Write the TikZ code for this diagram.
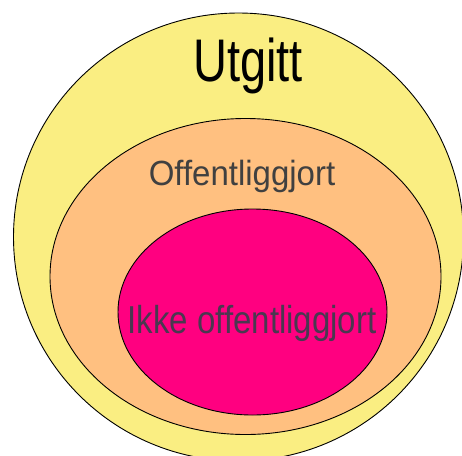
\documentclass[tikz,border=0pt]{standalone}
\usepackage{fontspec}
\setmainfont{Liberation Sans}
\definecolor{cyellow}{HTML}{FAEE82}
\definecolor{corange}{HTML}{FFC080}
\definecolor{cmagenta}{HTML}{FF0080}
\definecolor{tgray}{HTML}{404040}
\definecolor{tgray2}{HTML}{4A3850}
\tikzset{
  setring/.style={draw=black, line width=0.9pt},
  lbl/.style={inner sep=0pt, anchor=base}
}
\begin{document}
\begin{tikzpicture}[x=1pt,y=-1pt]
\useasboundingbox (0,0) rectangle (462,455);
\fill[white] (0,0) rectangle (462,455);
\begin{scope}
\clip (0,0) rectangle (462,455);
\draw[setring, fill=cyellow] (238.5,237) ellipse [x radius=225, y radius=224];
\end{scope}
\draw[setring, fill=corange] (245.5,276.5) ellipse [x radius=195.5, y radius=158];
\draw[setring, fill=cmagenta] (252.5,312) ellipse [x radius=134.5, y radius=103];
\node[lbl, yscale=1.28] (u) at (248,81) {\fontsize{47}{50}\selectfont Utgitt};
\node[lbl, yscale=1.06] (o) at (242,185) {\fontsize{33}{36}\selectfont\color{tgray} Offentliggjort};
\node[lbl, yscale=1.18] (i) at (252,333) {\fontsize{33}{36}\selectfont\color{tgray2} Ikke offentliggjort};
\end{tikzpicture}
\end{document}
